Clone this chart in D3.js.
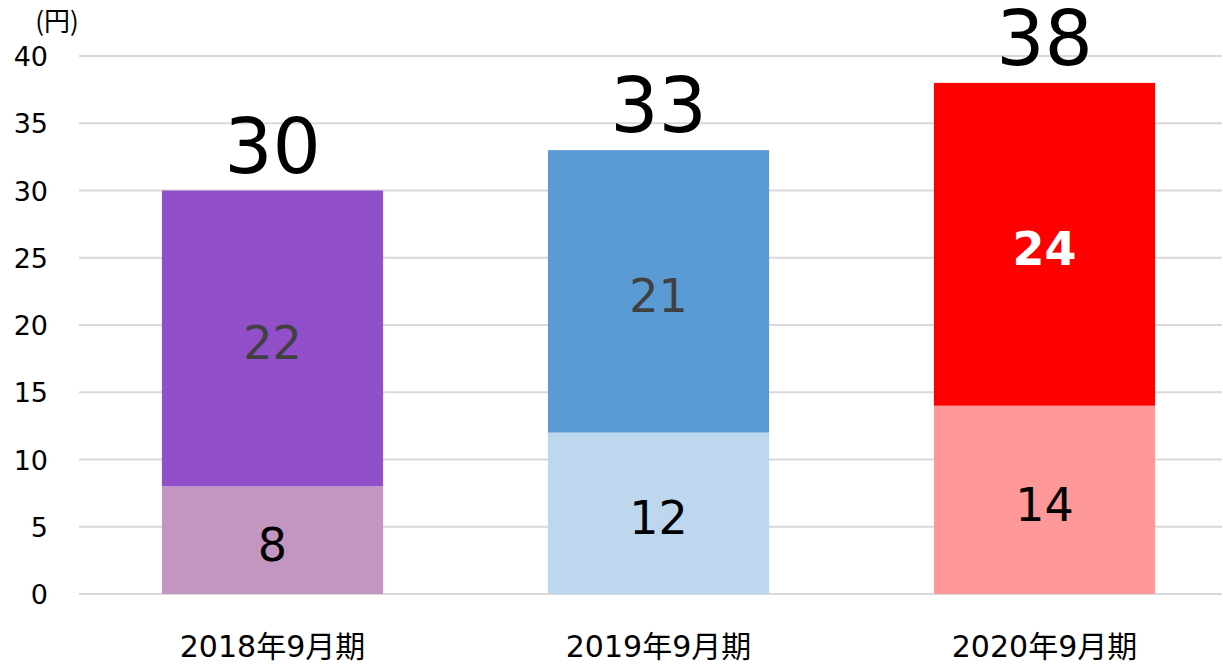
<!DOCTYPE html>
<head>
    <style>
        body { margin: 0; background: #fff; }
        svg { display: block; font-family: "DejaVu Sans", "Noto Sans CJK JP", sans-serif; }
        line.grid { stroke: #d9d9d9; stroke-width: 2px; }
    </style>
</head>
<body>
    <script src="https://d3js.org/d3.v7.min.js"></script>
    <script>
        var categories = ['2018年9月期', '2019年9月期', '2020年9月期'];
        var lower = [8, 12, 14];
        var upper = [22, 21, 24];
        var totals = [30, 33, 38];
        var lowerColors = ['#c396c2', '#bdd7ee', '#ff9999'];
        var upperColors = ['#914fc9', '#5b9bd5', '#ff0000'];
        var ticks = [0, 5, 10, 15, 20, 25, 30, 35, 40];

        var W = 1223, H = 664;
        var svg = d3.select('body').append('svg')
                    .attr('width', W).attr('height', H);

        var x = d3.scaleBand()
                  .domain(categories)
                  .range([79.5, 1237.5])
                  .paddingInner(0.427)
                  .paddingOuter(0.2135);
        var y = d3.scaleLinear().domain([0, 40]).range([594, 56]);

        // gridlines
        svg.selectAll('line.grid')
           .data(ticks)
           .enter().append('line')
           .attr('class', 'grid')
           .attr('x1', 79).attr('x2', 1222)
           .attr('y1', d => y(d)).attr('y2', d => y(d));

        // y tick labels
        svg.selectAll('text.ytick')
           .data(ticks)
           .enter().append('text')
           .attr('x', 48)
           .attr('y', d => y(d) + 10)
           .attr('text-anchor', 'end')
           .attr('font-size', 27)
           .attr('fill', '#000')
           .text(d => d);

        svg.append('text')
           .attr('x', 57).attr('y', 31)
           .attr('text-anchor', 'middle')
           .attr('font-size', 26)
           .attr('font-family', '"Noto Sans CJK JP", sans-serif')
           .text('(円)');

        var bw = x.bandwidth();
        // lower segments
        svg.selectAll('rect.lower')
           .data(categories)
           .enter().append('rect')
           .attr('x', d => x(d)).attr('width', bw)
           .attr('y', (d, i) => y(lower[i]))
           .attr('height', (d, i) => y(0) - y(lower[i]))
           .attr('fill', (d, i) => lowerColors[i]);
        // upper segments
        svg.selectAll('rect.upper')
           .data(categories)
           .enter().append('rect')
           .attr('x', d => x(d)).attr('width', bw)
           .attr('y', (d, i) => y(lower[i] + upper[i]))
           .attr('height', (d, i) => y(lower[i]) - y(lower[i] + upper[i]))
           .attr('fill', (d, i) => upperColors[i]);

        // segment labels
        svg.selectAll('text.lowerlab')
           .data(categories)
           .enter().append('text')
           .attr('x', d => x(d) + bw / 2)
           .attr('y', (d, i) => y(lower[i] / 2) + 21)
           .attr('text-anchor', 'middle')
           .attr('font-size', 46)
           .attr('fill', '#000')
           .text((d, i) => lower[i]);
        svg.selectAll('text.upperlab')
           .data(categories)
           .enter().append('text')
           .attr('x', d => x(d) + bw / 2)
           .attr('y', (d, i) => y(lower[i] + upper[i] / 2) + 21)
           .attr('text-anchor', 'middle')
           .attr('font-size', 46)
           .attr('font-weight', (d, i) => i === 2 ? 'bold' : 'normal')
           .attr('fill', (d, i) => i === 2 ? '#fff' : '#404040')
           .text((d, i) => upper[i]);

        // totals
        svg.selectAll('text.total')
           .data(categories)
           .enter().append('text')
           .attr('x', d => x(d) + bw / 2)
           .attr('y', (d, i) => y(totals[i]) - 18)
           .attr('text-anchor', 'middle')
           .attr('font-size', 76)
           .attr('fill', '#000')
           .text((d, i) => totals[i]);

        // category labels
        svg.selectAll('text.cat')
           .data(categories)
           .enter().append('text')
           .attr('x', d => x(d) + bw / 2)
           .attr('y', 657)
           .attr('text-anchor', 'middle')
           .attr('font-size', 30)
           .attr('fill', '#000')
           .text(d => d);
    </script>
</body>
